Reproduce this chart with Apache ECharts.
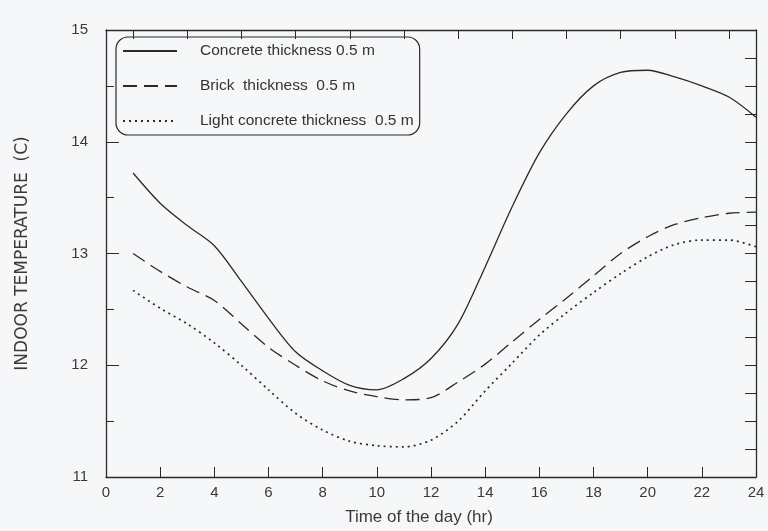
<!DOCTYPE html>
<html lang="en">
<head>
    <meta charset="UTF-8">
    <title>Indoor temperature</title>
    <style>
        body { margin: 0; background: #f5f7f9; }
    </style>
</head>
<body>
    <div id="main" style="width: 768px;height:531px;"></div>
    <script src="https://cdn.jsdelivr.net/npm/echarts@6/dist/echarts.min.js"></script>
    <script>
        // hours of the day
        var hours = [1, 2, 3, 4, 5, 6, 7, 8, 9, 10, 11, 12, 13, 14, 15, 16, 17, 18, 19, 20, 21, 22, 23, 24];
        // concrete wall, 0.5 m
        var concrete = [13.72, 13.45, 13.25, 13.07, 12.75, 12.42, 12.12, 11.95, 11.82, 11.78, 11.88, 12.06,
            12.37, 12.88, 13.42, 13.9, 14.25, 14.5, 14.62, 14.64, 14.58, 14.5, 14.4, 14.22];
        // brick wall, 0.5 m
        var brick = [13.0, 12.84, 12.7, 12.58, 12.37, 12.16, 12.0, 11.86, 11.77, 11.72, 11.69, 11.71,
            11.85, 12.01, 12.21, 12.41, 12.6, 12.8, 13.0, 13.15, 13.26, 13.32, 13.36, 13.37];
        // light concrete wall, 0.5 m
        var lightConcrete = [12.67, 12.51, 12.37, 12.2, 12.0, 11.78, 11.57, 11.42, 11.32, 11.28, 11.27, 11.33,
            11.5, 11.77, 12.02, 12.27, 12.47, 12.65, 12.82, 12.97, 13.08, 13.12, 13.12, 13.06];
        var names = ['Concrete thickness 0.5 m', 'Brick  thickness  0.5 m', 'Light concrete thickness  0.5 m'];
        // top axis: hour marks, ticks drawn on odd hours
        var topHours = ['0', '1', '2', '3', '4', '5', '6', '7', '8', '9', '10', '11', '12',
            '13', '14', '15', '16', '17', '18', '19', '20', '21', '22', '23', '24'];

        function pairs(vals) {
            return hours.map(function (h, i) { return [h, vals[i]]; });
        }

        var ink = '#2a2a2a';
        var txt = { color: '#3a3a3a', fontFamily: 'Liberation Sans', fontSize: 15 };

        var myChart = echarts.init(document.getElementById('main'));
        var option = {
            backgroundColor: '#f5f7f9',
            animation: false,
            grid: { left: 106, right: 12, top: 30, bottom: 52 },
            legend: {
                orient: 'vertical',
                left: 116,
                top: 37,
                padding: [6, 6, 6, 6],
                itemWidth: 54,
                itemHeight: 14,
                itemGap: 19,
                borderColor: ink,
                borderWidth: 1.2,
                borderRadius: 12,
                itemStyle: { opacity: 0 },
                textStyle: { color: '#333', fontFamily: 'Liberation Sans', fontSize: 15.5, padding: [0, 0, 0, 18] },
                data: names
            },
            xAxis: [{
                type: 'value', min: 0, max: 24, interval: 2,
                name: 'Time of the day (hr)', nameLocation: 'middle', nameGap: 32,
                nameTextStyle: Object.assign({}, txt, { fontSize: 17, padding: [0, 24, 0, 0] }),
                axisLine: { lineStyle: { color: ink, width: 1.3 } },
                axisTick: { inside: true, length: 10, lineStyle: { color: ink } },
                axisLabel: Object.assign({ margin: 8 }, txt),
                splitLine: { show: false }
            }, {
                type: 'category', data: topHours, boundaryGap: false, position: 'top',
                axisLine: { show: true, lineStyle: { color: ink, width: 1.3 } },
                axisTick: {
                    inside: true, length: 9, lineStyle: { color: ink },
                    interval: function (i) { return i % 2 === 1; }
                },
                axisLabel: { show: false },
                splitLine: { show: false }
            }],
            yAxis: [{
                type: 'value', min: 11, max: 15, interval: 1,
                name: 'INDOOR TEMPERATURE  (C)', nameLocation: 'middle', nameGap: 75,
                nameTextStyle: Object.assign({}, txt, { fontFamily: 'DejaVu Sans', fontSize: 17 }),
                axisLine: { show: true, lineStyle: { color: ink, width: 1.3 } },
                axisTick: { inside: true, length: 13, lineStyle: { color: ink } },
                axisLabel: Object.assign({ margin: 18 }, txt),
                splitLine: { show: false }
            }, {
                type: 'value', min: 11, max: 15, interval: 0.5, position: 'left',
                axisLine: { show: false },
                axisTick: { inside: true, length: 8, lineStyle: { color: ink } },
                axisLabel: { show: false },
                splitLine: { show: false }
            }, {
                type: 'value', min: 11, max: 15, interval: 0.25, position: 'right',
                axisLine: { show: true, lineStyle: { color: ink, width: 1.3 } },
                axisTick: { inside: true, length: 11, lineStyle: { color: ink } },
                axisLabel: { show: false },
                splitLine: { show: false }
            }],
            series: [{
                name: names[0], type: 'line', data: pairs(concrete), smooth: 0.3,
                symbol: 'none', lineStyle: { color: ink, width: 1.3, type: 'solid' },
                itemStyle: { color: ink }
            }, {
                name: names[1], type: 'line', data: pairs(brick), smooth: 0.3,
                symbol: 'none', lineStyle: { color: ink, width: 1.3, type: [14, 7] },
                itemStyle: { color: ink }
            }, {
                name: names[2], type: 'line', data: pairs(lightConcrete), smooth: 0.3,
                symbol: 'none', lineStyle: { color: ink, width: 1.7, type: [2, 4] },
                itemStyle: { color: ink }
            }]
        };
        option && myChart.setOption(option);
    </script>
</body>
</html>
